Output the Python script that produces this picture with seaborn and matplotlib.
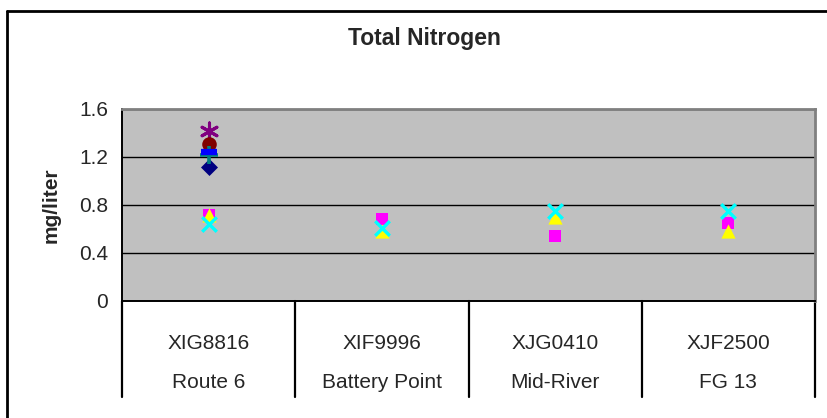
import numpy as np
import pandas as pd
import matplotlib
matplotlib.use("Agg")
import matplotlib.pyplot as plt
import matplotlib.transforms as mtransforms
import seaborn as sns

# ---- data ----
site_codes = ["XIG8816", "XIF9996", "XJG0410", "XJF2500"]
site_names = ["Route 6", "Battery Point", "Mid-River", "FG 13"]
series_names = ["S1", "S2", "S3", "S4", "S5", "S6", "S7", "S8"]
s1_diamond = [1.12, np.nan, np.nan, np.nan]
s2_square = [0.72, 0.68, 0.54, 0.65]
s3_triangle = [0.72, 0.58, 0.70, 0.58]
s4_x = [0.64, 0.61, 0.75, 0.75]
s5_star = [1.42, np.nan, np.nan, np.nan]
s6_circle = [1.31, np.nan, np.nan, np.nan]
s7_plus = [1.22, np.nan, np.nan, np.nan]
s8_dash = [1.24, np.nan, np.nan, np.nan]
yticks = [0, 0.4, 0.8, 1.2, 1.6]
ytick_labels = ["0", "0.4", "0.8", "1.2", "1.6"]

values = [s1_diamond, s2_square, s3_triangle, s4_x, s5_star, s6_circle, s7_plus, s8_dash]
rows = []
for name, vals in zip(series_names, values):
    for i, v in enumerate(vals):
        rows.append({"series": name, "pos": i, "site": site_codes[i], "value": v})
df = pd.DataFrame(rows).dropna()

# ---- styles ----
styles = {
    "S1": dict(marker="D", color="#000080", s=75, linewidth=0),
    "S2": dict(marker="s", color="#FF00FF", s=80, linewidth=0),
    "S3": dict(marker="^", color="#FFFF00", s=105, linewidth=0),
    "S4": dict(marker="x", color="#00FFFF", s=110, linewidth=2.4),
    "S5": dict(marker=(6, 2, 0), color="#800080", s=150, linewidth=2.2),
    "S6": dict(marker="o", color="#800000", s=110, linewidth=0),
    "S7": dict(marker="+", color="#008080", s=160, linewidth=2.6),
    "S8": dict(marker="_", color="#0000FF", s=120, linewidth=4.5),
}

sns.set_style("white")
plt.rcParams["font.family"] = ["Liberation Sans", "DejaVu Sans"]

fig = plt.figure(figsize=(8.27, 4.18), dpi=100)
W, H = 827, 418
ax = fig.add_axes([122 / W, (H - 301) / H, (815 - 122) / W, (301 - 109) / H])
ax.set_facecolor("#C0C0C0")

for name in series_names:
    sub = df[df["series"] == name]
    st = styles[name]
    sns.scatterplot(data=sub, x="pos", y="value", ax=ax, marker=st["marker"],
                    color=st["color"], s=st["s"], linewidth=st["linewidth"],
                    legend=False, zorder=3, clip_on=False)

ax.set_xlim(-0.5, len(site_codes) - 0.5)
ax.set_ylim(0, 1.6)
ax.set_yticks(yticks)
ax.set_yticklabels(ytick_labels, fontsize=15)
ax.yaxis.grid(True, color="black", linewidth=1)
ax.set_axisbelow(True)
ax.tick_params(axis="y", direction="out", length=6, width=1.2, color="black", pad=4)

ax.set_xticks(range(len(site_codes)))
ax.set_xticklabels(site_codes, fontsize=15)
ax.tick_params(axis="x", length=0, pad=24)
ax.set_xlabel("")
ax.set_ylabel("mg/liter", fontsize=15, fontweight="bold", labelpad=13)

for side in ["left", "bottom"]:
    ax.spines[side].set_color("black")
    ax.spines[side].set_linewidth(1.4)
for side in ["top", "right"]:
    ax.spines[side].set_color("#808080")
    ax.spines[side].set_linewidth(2)

trans = mtransforms.blended_transform_factory(ax.transData, ax.transAxes)
for b in np.arange(len(site_codes) + 1) - 0.5:
    ax.plot([b, b], [0, -96 / 192], transform=trans, color="black", linewidth=1.6,
            clip_on=False)
for i, nm in enumerate(site_names):
    ax.text(i, -81 / 192, nm, transform=trans, ha="center", va="center", fontsize=15)

fig.text(424 / W, 1 - 38.5 / H, "Total Nitrogen", ha="center", va="center",
         fontsize=16.5, fontweight="bold")

# chart-area frame (top and left edges visible)
fig.add_artist(plt.Line2D([7 / W, 1.0], [1 - 11 / H, 1 - 11 / H], transform=fig.transFigure,
                          color="black", linewidth=2))
fig.add_artist(plt.Line2D([7 / W, 7 / W], [0, 1 - 11 / H], transform=fig.transFigure,
                          color="black", linewidth=2))

fig.savefig("out.png", dpi=100)
